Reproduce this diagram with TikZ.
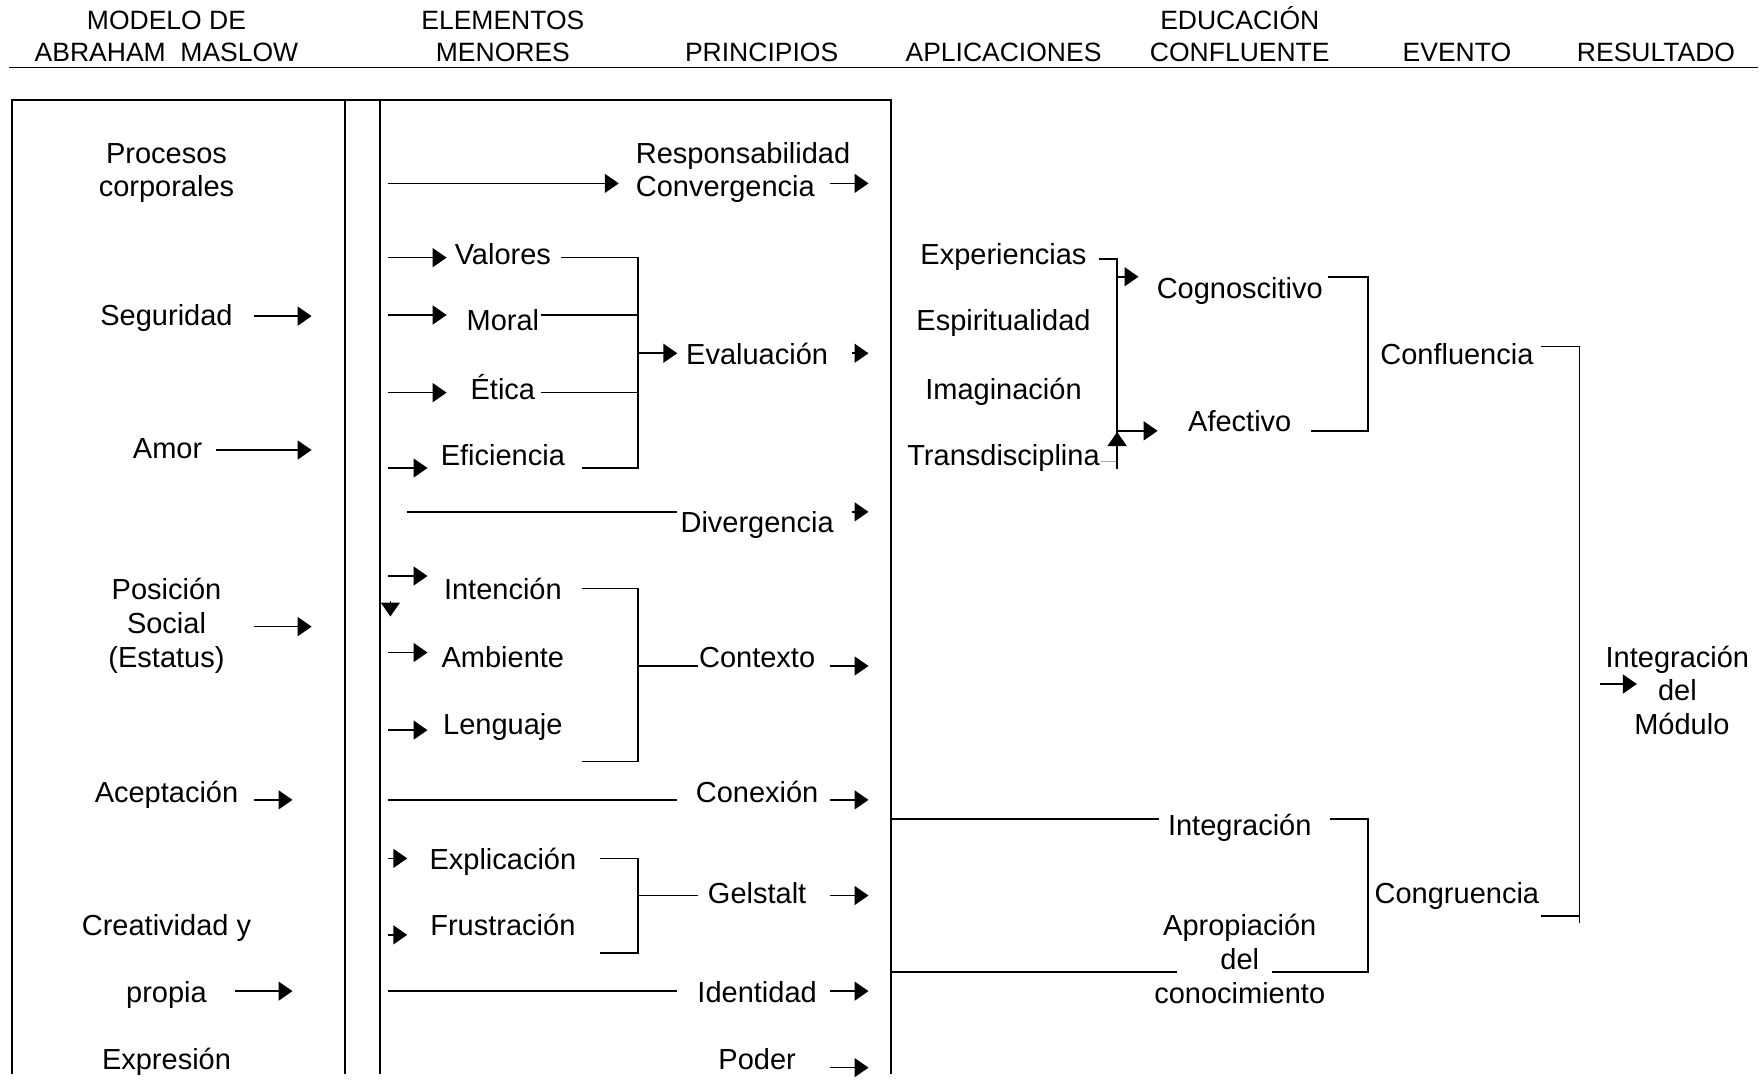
\documentclass[tikz,border=0pt]{standalone}
\usepackage{fontspec}
\setmainfont{Liberation Sans}
\usetikzlibrary{arrows.meta}
\begin{document}
\begin{tikzpicture}[x=1.125pt,y=-1.125pt,
  lbl/.style={inner sep=0pt,text height=21.8pt,text depth=6.1pt,font=\fontsize{29}{34}\selectfont},
  hdr/.style={inner sep=0pt,text height=19.9pt,text depth=5.6pt,font=\fontsize{26.5}{31}\selectfont},
  frame/.style={line width=1.8pt},
  ln/.style={line width=1.6pt},
  arr/.style={line width=1.6pt,-{Triangle[length=14pt,width=19pt]}},
  hair/.style={line width=0.6pt,draw=gray!70},
]
\useasboundingbox (0,0) rectangle (1568,965);

% ---------- column headings ----------
\node[hdr] (hA1) at (148,20) {MODELO DE};
\node[hdr] (hA2) at (148,48) {ABRAHAM\ \ MASLOW};
\node[hdr] (hB1) at (447,20) {ELEMENTOS};
\node[hdr] (hB2) at (447,48) {MENORES};
\node[hdr] (hC)  at (677,48) {PRINCIPIOS};
\node[hdr] (hD)  at (892,48) {APLICACIONES};
\node[hdr] (hE1) at (1102,20) {EDUCACIÓN};
\node[hdr] (hE2) at (1102,48) {CONFLUENTE};
\node[hdr] (hF)  at (1295,48) {EVENTO};
\node[hdr] (hG)  at (1472,48) {RESULTADO};
\draw[frame] (8,60) -- (1563,60);

% ---------- frame of the first three columns ----------
\draw[frame] (11,955) -- (11,89) -- (792,89) -- (792,955);
\draw[frame] (307,89) -- (307,955);
\draw[frame] (338,89) -- (338,955);

% ---------- Maslow levels ----------
\node[lbl] (pc1) at (148,138) {Procesos};
\node[lbl] (pc2) at (148,168) {corporales};
\node[lbl] (seg) at (148,282) {Seguridad};
\node[lbl] (amor) at (149,401) {Amor};
\node[lbl] (pos1) at (148,526) {Posición};
\node[lbl] (pos2) at (148,556) {Social};
\node[lbl] (pos3) at (148,586) {(Estatus)};
\node[lbl] (acep) at (148,706) {Aceptación};
\node[lbl] (cre) at (148,825) {Creatividad y};
\node[lbl] (prop) at (148,884) {propia};
\node[lbl] (expr) at (148,944) {Expresión};

\draw[arr] (226,281) -- (277,281);
\draw[arr] (192,400) -- (277,400);
\draw[arr] (226,557) -- (277,557);
\draw[arr] (226,711) -- (260,711);
\draw[arr] (209,881) -- (260,881);

% ---------- minor elements and principles ----------
\node[lbl,anchor=west] (resp) at (565,138) {Responsabilidad};
\node[lbl,anchor=west] (conv) at (565,168) {Convergencia};
\draw[arr] (345,163) -- (550,163);
\draw[arr] (738,163) -- (772,163);

\node[lbl] (val) at (447,228) {Valores};
\node[lbl] (mor) at (447,287) {Moral};
\node[lbl] (eti) at (447,348) {Ética};
\node[lbl] (efi) at (447,407) {Eficiencia};
\node[lbl] (eval) at (673,317) {Evaluación};
\draw[arr] (345,229) -- (397,229);
\draw[arr] (345,280) -- (397,280);
\draw[arr] (345,349) -- (397,349);
\draw[arr] (345,416) -- (380,416);
\draw[ln] (499,229) -- (567,229) -- (567,416) -- (517,416);
\draw[ln] (481,280) -- (567,280);
\draw[ln] (481,349) -- (567,349);
\draw[arr] (567,314) -- (602,314);
\draw[arr] (757,314) -- (772,314);

\node[lbl] (div) at (673,466) {Divergencia};
\draw[ln] (362,455) -- (602,455);
\draw[arr] (757,455) -- (772,455);

\node[lbl] (int) at (447,526) {Intención};
\node[lbl] (amb) at (447,586) {Ambiente};
\node[lbl] (len) at (447,646) {Lenguaje};
\node[lbl] (ctx) at (673,586) {Contexto};
\draw[arr] (345,512) -- (380,512);
\draw[arr] (347,534) -- (347,548);
\draw[arr] (345,580) -- (380,580);
\draw[arr] (345,649) -- (380,649);
\draw[ln] (517,523) -- (567,523) -- (567,677) -- (517,677);
\draw[ln] (567,592) -- (620,592);
\draw[arr] (738,592) -- (772,592);

\node[lbl] (con) at (673,706) {Conexión};
\draw[ln] (345,711) -- (602,711);
\draw[arr] (738,711) -- (772,711);

\node[lbl] (expl) at (447,766) {Explicación};
\node[lbl] (fru) at (447,825) {Frustración};
\node[lbl] (gel) at (673,796) {Gelstalt};
\draw[arr] (345,763) -- (362,763);
\draw[arr] (345,831) -- (362,831);
\draw[ln] (533,763) -- (567,763) -- (567,847) -- (533,847);
\draw[ln] (567,796) -- (620,796);
\draw[arr] (738,796) -- (772,796);

\node[lbl] (ide) at (673,884) {Identidad};
\draw[ln] (345,881) -- (602,881);
\draw[arr] (738,881) -- (772,881);

\node[lbl] (pod) at (673,944) {Poder};
\draw[arr] (738,949) -- (772,949);

% ---------- applications ----------
\node[lbl] (expe) at (892,228) {Experiencias};
\node[lbl] (esp) at (892,287) {Espiritualidad};
\node[lbl] (ima) at (892,348) {Imaginación};
\node[lbl] (tra) at (892,407) {Transdisciplina};
\draw[ln] (977,230) -- (993,230) -- (993,417);
\draw[hair] (979,410) -- (993,410);
\draw[arr] (993,417) -- (993,384);

% ---------- confluent education ----------
\node[lbl] (cog) at (1102,258) {Cognoscitivo};
\node[lbl] (afe) at (1102,377) {Afectivo};
\draw[arr] (993,246) -- (1012,246);
\draw[arr] (993,383) -- (1029,383);
\draw[ln] (1180,246) -- (1216,246) -- (1216,383) -- (1165,383);

\node[lbl] (integ) at (1102,736) {Integración};
\node[lbl] (apr1) at (1102,825) {Apropiación};
\node[lbl] (apr2) at (1102,855) {del};
\node[lbl] (apr3) at (1102,885) {conocimiento};
\draw[ln] (792,728) -- (1030,728);
\draw[ln] (792,864) -- (1046,864);
\draw[ln] (1182,728) -- (1216,728) -- (1216,864) -- (1131,864);

% ---------- events ----------
\node[lbl] (conf) at (1295,317) {Confluencia};
\node[lbl] (cong) at (1295,796) {Congruencia};
\draw[ln] (1370,308) -- (1404,308) -- (1404,820);
\draw[ln] (1370,814) -- (1404,814);

% ---------- result ----------
\node[lbl] (res1) at (1491,586) {Integración};
\node[lbl] (res2) at (1491,616) {del};
\node[lbl] (res3) at (1495,646) {Módulo};
\draw[arr] (1422,608) -- (1455,608);
\end{tikzpicture}
\end{document}
